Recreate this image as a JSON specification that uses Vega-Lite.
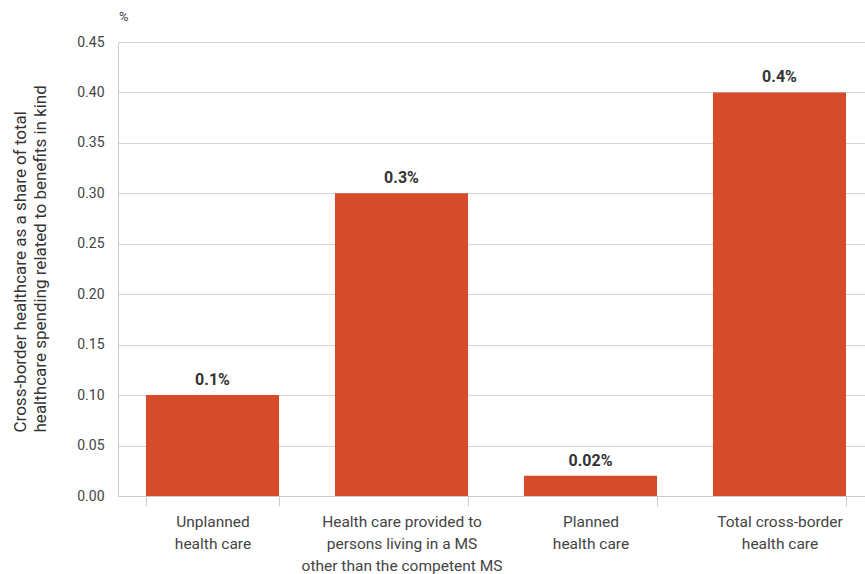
{
  "$schema": "https://vega.github.io/schema/vega-lite/v6.json",
  "autosize": "none",
  "padding": {"left": 118, "top": 42, "right": 0, "bottom": 78},
  "width": 756,
  "height": 454,
  "background": "white",
  "config": {
    "font": "Roboto, sans-serif",
    "view": {"stroke": null},
    "title": {"font": "Roboto, sans-serif"}
  },
  "title": {
    "text": "%",
    "anchor": "start",
    "frame": "group",
    "fontSize": 13,
    "fontWeight": "normal",
    "color": "#444444",
    "offset": 11,
    "dx": 1
  },
  "data": {
    "values": [
      {"category": "Unplanned\nhealth care", "value": 0.1, "label": "0.1%"},
      {"category": "Health care provided to\npersons living in a MS\nother than the competent MS", "value": 0.3, "label": "0.3%"},
      {"category": "Planned\nhealth care", "value": 0.02, "label": "0.02%"},
      {"category": "Total cross-border\nhealth care", "value": 0.4, "label": "0.4%"}
    ]
  },
  "encoding": {
    "x": {
      "field": "category",
      "type": "nominal",
      "sort": null,
      "scale": {"paddingInner": 0.296, "paddingOuter": 0.148},
      "axis": {
        "title": null,
        "labelAngle": 0,
        "labelExpr": "split(datum.label, '\\n')",
        "labelFontSize": 15.5,
        "labelColor": "#444444",
        "labelLineHeight": 22,
        "labelPadding": 8,
        "labelBaseline": "top",
        "tickBand": "extent",
        "tickSize": 10,
        "tickColor": "#cccccc",
        "domainColor": "#cccccc",
        "labelLimit": 300
      }
    },
    "y": {
      "field": "value",
      "type": "quantitative",
      "scale": {"domain": [0, 0.45], "nice": false},
      "axis": {
        "values": [0, 0.05, 0.1, 0.15, 0.2, 0.25, 0.3, 0.35, 0.4, 0.45],
        "format": ".2f",
        "title": ["Cross-border healthcare as a share of total", "healthcare spending related to benefits in kind"],
        "titleFontSize": 17,
        "titleFontWeight": "normal",
        "titleColor": "#333333",
        "titleAngle": -90,
        "titleAlign": "left",
        "titleBaseline": "top",
        "titleLineHeight": 20,
        "titleX": -106,
        "titleY": 390,
        "labelFontSize": 14,
        "labelColor": "#444444",
        "labelPadding": 14,
        "ticks": false,
        "domainColor": "#cccccc",
        "gridColor": "#d4d4d4",
        "gridWidth": 1
      }
    }
  },
  "layer": [
    {"mark": {"type": "bar", "color": "#D64B2A"}},
    {
      "mark": {"type": "text", "baseline": "alphabetic", "dy": -10, "fontSize": 16, "fontWeight": "bold", "color": "#333333"},
      "encoding": {"text": {"field": "label"}}
    }
  ]
}
